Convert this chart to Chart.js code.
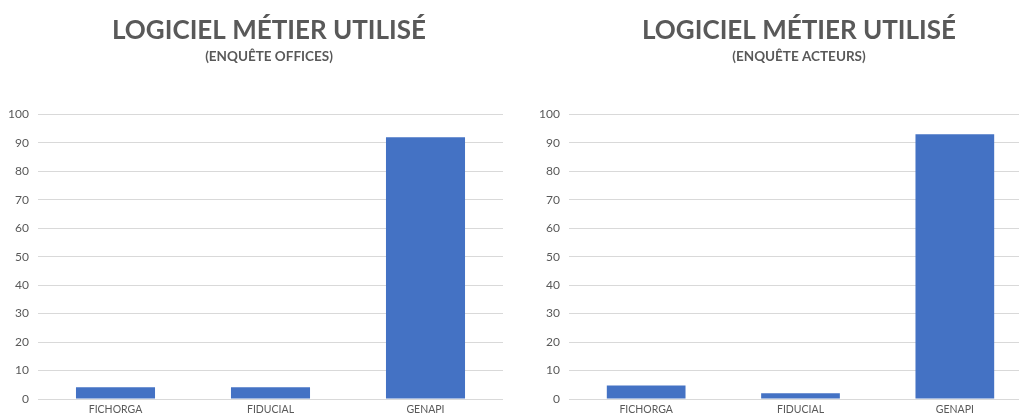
<!DOCTYPE html>
<html>
<head>
<meta charset="utf-8">
<script src="https://cdn.jsdelivr.net/npm/chart.js@4/dist/chart.umd.min.js"></script>
<style>
  html, body { margin: 0; padding: 0; background: #ffffff; width: 1019px; height: 418px; overflow: hidden; position: relative; }
  .box { position: absolute; top: 0; height: 418px; }
  #c1box { left: 0; width: 540px; }
  #c2box { left: 520px; width: 560px; }
</style>
</head>
<body>
<div class="box" id="c1box"><canvas id="c1" width="540" height="418"></canvas></div>
<div class="box" id="c2box"><canvas id="c2" width="560" height="418"></canvas></div>
<script>
const categories = ["FICHORGA", "FIDUCIAL", "GENAPI"];
const officesValues = [4.1, 4.1, 92];
const acteursValues = [4.7, 2.0, 93];
const yTicks = [0, 10, 20, 30, 40, 50, 60, 70, 80, 90, 100];
const mainTitle = "LOGICIEL MÉTIER UTILISÉ";
const subtitleOffices = "(ENQUÊTE OFFICES)";
const subtitleActeurs = "(ENQUÊTE ACTEURS)";

const FONT = "Lato, 'Open Sans', sans-serif";
const GREY = "#595959";

function makeChart(id, values, sub, yWidth, spacerWidth) {
  return new Chart(document.getElementById(id), {
    type: 'bar',
    data: {
      labels: categories,
      datasets: [{
        data: values,
        backgroundColor: '#4472C4',
        borderWidth: 0,
        categoryPercentage: 1.0,
        barPercentage: 0.51
      }]
    },
    options: {
      responsive: false,
      animation: false,
      devicePixelRatio: 1,
      layout: { padding: { top: 0, right: 2, bottom: 0, left: 0 } },
      plugins: {
        legend: { display: false },
        tooltip: { enabled: false },
        title: {
          display: true,
          text: mainTitle,
          color: GREY,
          font: { family: FONT, size: 26, weight: 'bold' },
          padding: { top: 15, bottom: 0 }
        },
        subtitle: {
          display: true,
          text: sub,
          color: GREY,
          font: { family: FONT, size: 13.5, weight: 'bold' },
          padding: { top: 2, bottom: 50 }
        }
      },
      scales: {
        x: {
          grid: { display: false, drawTicks: false },
          border: { display: false },
          ticks: { color: GREY, font: { family: FONT, size: 10.5 }, padding: 4, maxRotation: 0 },
          afterFit: s => { s.height = 19; }
        },
        y: {
          min: 0, max: 100,
          afterBuildTicks: s => { s.ticks = yTicks.map(v => ({ value: v })); },
          grid: { color: '#d9d9d9', lineWidth: 1, drawTicks: false },
          border: { display: false },
          ticks: { color: GREY, font: { family: FONT, size: 12 }, padding: 9 },
          afterFit: s => { s.width = yWidth; }
        },
        spacer: {
          type: 'linear',
          position: 'right',
          display: true,
          grid: { display: false, drawTicks: false },
          border: { display: false },
          ticks: { display: false },
          afterFit: s => { s.width = spacerWidth; }
        }
      }
    }
  });
}

makeChart('c1', officesValues, subtitleOffices, 38, 35);
makeChart('c2', acteursValues, subtitleActeurs, 49, 46);
</script>
</body>
</html>
